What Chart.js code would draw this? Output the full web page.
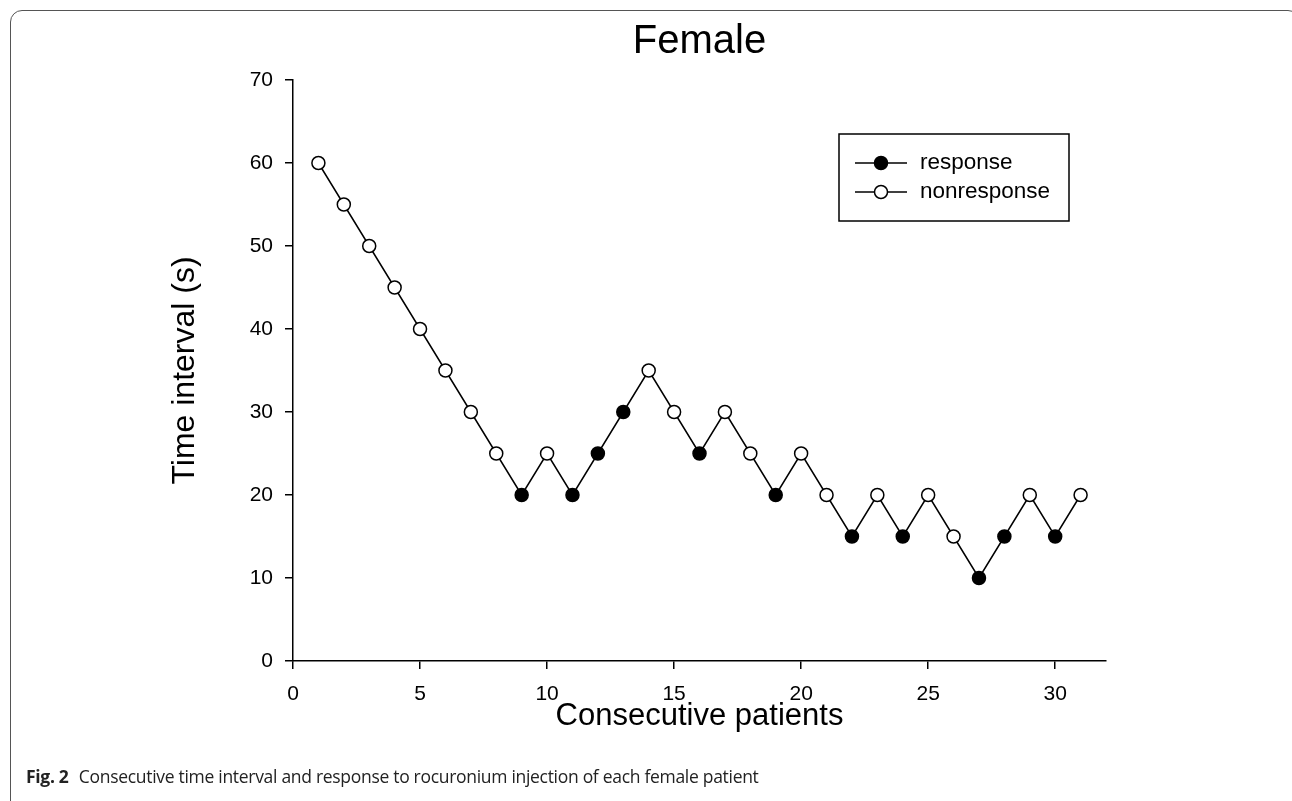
<!DOCTYPE html>
<html>
<head>
<meta charset="utf-8">
<script src="https://cdn.jsdelivr.net/npm/chart.js@4"></script>
<style>
    html, body { margin: 0; padding: 0; background: #fff; overflow: hidden; }
    #frame {
        position: absolute; left: 10px; top: 10px; width: 1290px; height: 830px;
        border: 1.5px solid #555; border-radius: 12px; box-sizing: border-box;
    }
    #wrap { position: absolute; left: 0; top: 0; width: 1292px; height: 801px; }
    #caption {
        position: absolute; left: 26px; top: 764px;
        font-family: "Open Sans", sans-serif; font-size: 17.5px; color: #222;
        letter-spacing: -0.3px; white-space: nowrap;
    }
    #caption b { margin-right: 6px; }
</style>
</head>
<body>
<div id="frame"></div>
<div id="wrap"><canvas id="chart" width="1292" height="801"></canvas></div>
<div id="caption"><b>Fig. 2</b> Consecutive time interval and response to rocuronium injection of each female patient</div>
<script>
// Patients in order, time interval given (s), and whether they responded
const patients = [1, 2, 3, 4, 5, 6, 7, 8, 9, 10, 11, 12, 13, 14, 15, 16, 17, 18, 19, 20, 21, 22, 23, 24, 25, 26, 27, 28, 29, 30, 31];
const intervals = [60, 55, 50, 45, 40, 35, 30, 25, 20, 25, 20, 25, 30, 35, 30, 25, 30, 25, 20, 25, 20, 15, 20, 15, 20, 15, 10, 15, 20, 15, 20];
const responded = [0, 0, 0, 0, 0, 0, 0, 0, 1, 0, 1, 1, 1, 0, 0, 1, 0, 0, 1, 0, 0, 1, 0, 1, 0, 0, 1, 1, 0, 1, 0];
const xTicks = [0, 5, 10, 15, 20, 25, 30];
const yTicks = [0, 10, 20, 30, 40, 50, 60, 70];
const legendLabels = ['response', 'nonresponse'];

const FONT = 'Liberation Sans, Arial, sans-serif';

const points = patients.map((p, i) => ({ x: p, y: intervals[i] }));
const fills = responded.map(r => r ? '#000' : '#fff');

// Title centred over the plot area + legend box like the original
const extras = {
    id: 'extras',
    afterDraw(chart) {
        const ctx = chart.ctx;
        const area = chart.chartArea;
        ctx.save();
        ctx.fillStyle = '#000';
        ctx.font = '40px ' + FONT;
        ctx.textAlign = 'center';
        ctx.textBaseline = 'middle';
        ctx.fillText('Female', (area.left + area.right) / 2, 42);

        ctx.textAlign = 'left';
        ctx.strokeStyle = '#000';
        ctx.lineWidth = 1.5;
        ctx.strokeRect(839, 134, 230, 87);
        legendLabels.forEach((label, i) => {
            const y = 163 + i * 29;
            ctx.beginPath();
            ctx.moveTo(855, y);
            ctx.lineTo(907, y);
            ctx.stroke();
            ctx.beginPath();
            ctx.arc(881, y, 6.5, 0, Math.PI * 2);
            ctx.fillStyle = i === 0 ? '#000' : '#fff';
            ctx.fill();
            ctx.stroke();
            ctx.fillStyle = '#000';
            ctx.font = '22.5px ' + FONT;
            ctx.fillText(label, 920, y);
        });
        ctx.restore();
    }
};

new Chart(document.getElementById('chart'), {
    type: 'line',
    data: {
        datasets: [{
            label: 'Time interval',
            data: points,
            borderColor: '#000',
            borderWidth: 1.5,
            pointRadius: 6.5,
            pointBorderWidth: 1.5,
            pointBorderColor: '#000',
            pointBackgroundColor: fills,
            tension: 0
        }]
    },
    options: {
        responsive: false,
        animation: false,
        layout: { padding: { left: 0, right: 186, top: 80, bottom: 0 } },
        plugins: {
            legend: { display: false },
            tooltip: { enabled: false },
            title: { display: false }
        },
        scales: {
            x: {
                type: 'linear',
                min: 0,
                max: 32,
                afterBuildTicks: s => { s.ticks = xTicks.map(v => ({ value: v })); },
                afterFit: s => { s.height = 140; },
                border: { display: true, color: '#000', width: 1.5 },
                grid: { drawOnChartArea: false, drawTicks: true, tickLength: 8, color: '#000', lineWidth: 1.5 },
                ticks: { color: '#000', padding: 13, font: { family: FONT, size: 21 } },
                title: {
                    display: true,
                    text: 'Consecutive patients',
                    color: '#000',
                    font: { family: FONT, size: 31, lineHeight: 1.2 },
                    padding: { top: 0, bottom: 66 }
                }
            },
            y: {
                min: 0,
                max: 70,
                afterBuildTicks: s => { s.ticks = yTicks.map(v => ({ value: v })); },
                afterFit: s => { s.width = 293; },
                border: { display: true, color: '#000', width: 1.5 },
                grid: { drawOnChartArea: false, drawTicks: true, tickLength: 8, color: '#000', lineWidth: 1.5 },
                ticks: { color: '#000', padding: 12, font: { family: FONT, size: 21 } },
                title: {
                    display: true,
                    text: 'Time interval (s)',
                    color: '#000',
                    font: { family: FONT, size: 32, lineHeight: 1.2 },
                    padding: { top: 166, bottom: 0 }
                }
            }
        }
    },
    plugins: [extras]
});
</script>
</body>
</html>
